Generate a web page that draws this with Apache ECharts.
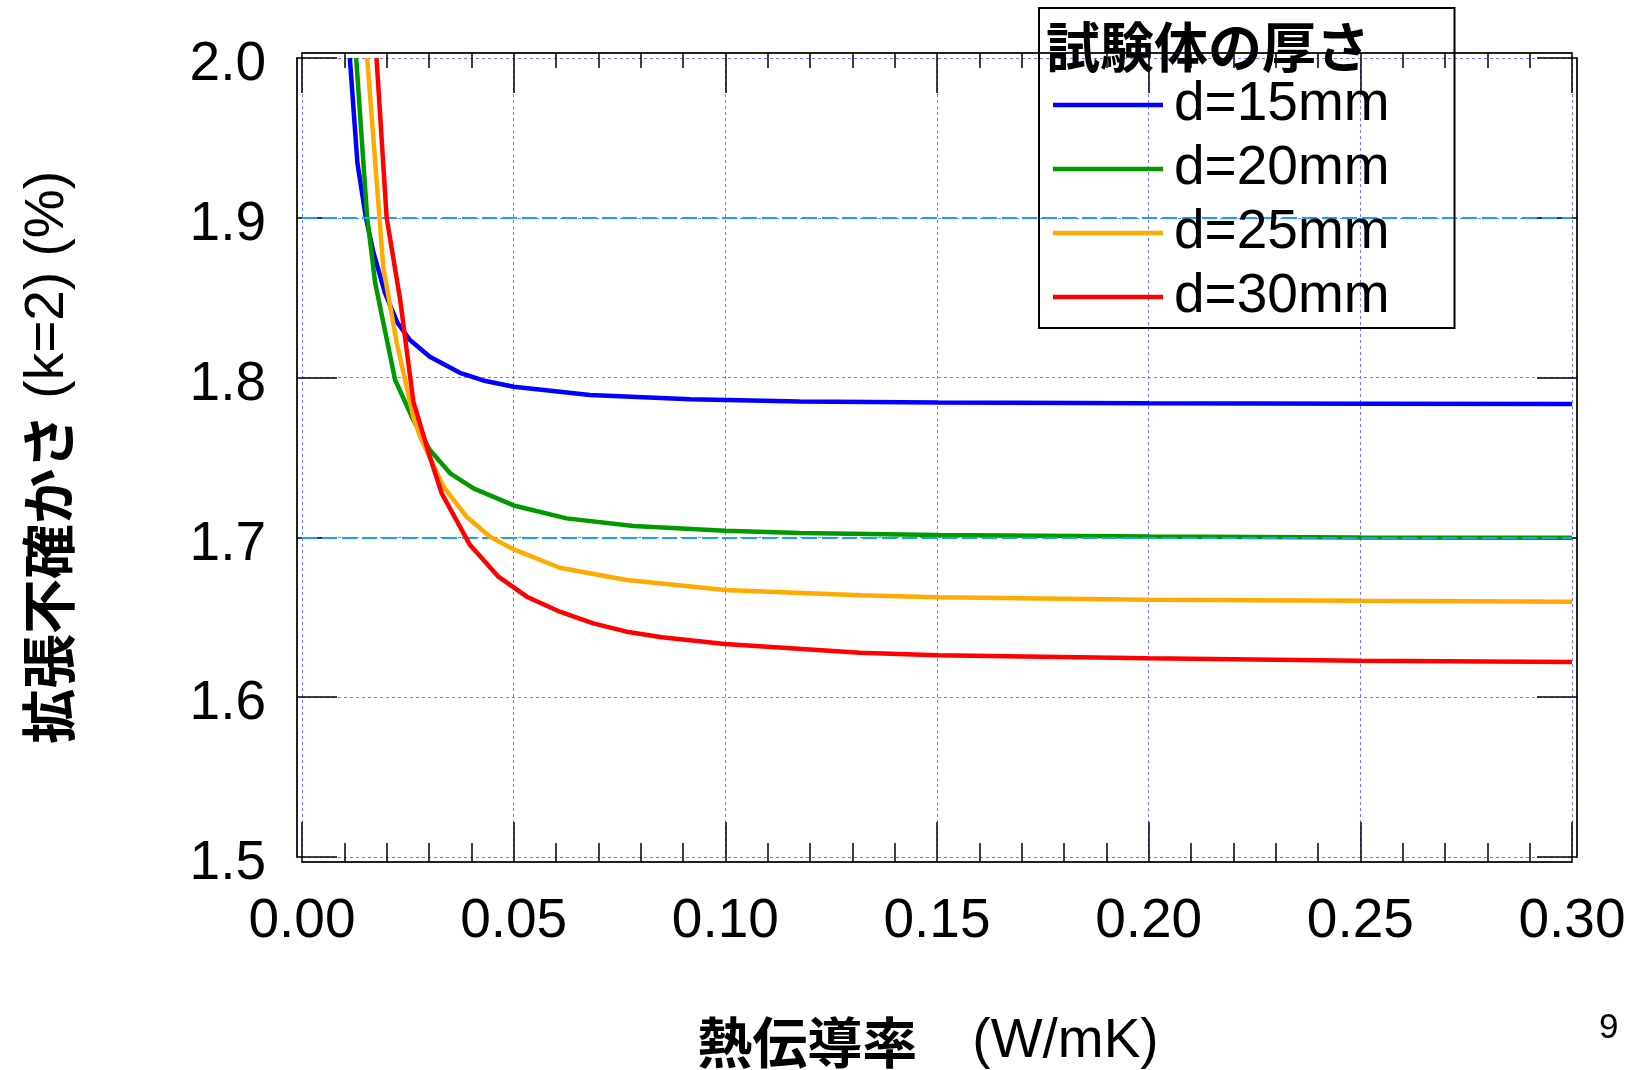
<!DOCTYPE html>
<html>
<head>
<meta charset="utf-8">
<script src="https://cdn.jsdelivr.net/npm/echarts@6/dist/echarts.min.js"></script>
<style>
html,body{margin:0;padding:0;background:#ffffff;}
#chart{width:1632px;height:1070px;}
</style>
</head>
<body>
<div id="chart"></div>
<script>
// ---- data ----
const SERIES_NAMES = ['d=15mm', 'd=20mm', 'd=25mm', 'd=30mm'];
const SERIES_COLORS = ['#0000ff', '#009900', '#ffaa00', '#ff0000'];

const X_15 = [0.0113, 0.0131, 0.0151, 0.0169, 0.0196, 0.0225, 0.0255, 0.0302, 0.0373, 0.0428, 0.05, 0.068, 0.0917, 0.1176, 0.15, 0.20, 0.25, 0.30];
const Y_15 = [2.000, 1.934, 1.900, 1.878, 1.853, 1.8345, 1.8235, 1.8131, 1.8030, 1.7982, 1.7943, 1.7891, 1.7864, 1.7851, 1.7844, 1.7839, 1.7837, 1.7835];

const X_20 = [0.0128, 0.0154, 0.0173, 0.0220, 0.0263, 0.0302, 0.035, 0.0405, 0.05, 0.0625, 0.0783, 0.10, 0.1176, 0.15, 0.20, 0.25, 0.30];
const Y_20 = [2.000, 1.900, 1.859, 1.7985, 1.7735, 1.7547, 1.7401, 1.7307, 1.7200, 1.7119, 1.7071, 1.7042, 1.7028, 1.7015, 1.7005, 1.7000, 1.6998];

const X_25 = [0.0154, 0.0183, 0.0192, 0.0224, 0.0263, 0.0279, 0.0334, 0.0389, 0.0444, 0.05, 0.0609, 0.0767, 0.10, 0.1318, 0.15, 0.20, 0.25, 0.30];
const Y_25 = [2.000, 1.900, 1.869, 1.8215, 1.7755, 1.763, 1.7317, 1.7129, 1.7004, 1.6925, 1.6810, 1.6733, 1.6671, 1.6638, 1.6625, 1.6610, 1.6603, 1.6598];

const X_30 = [0.0176, 0.0200, 0.0232, 0.0263, 0.0302, 0.033, 0.0397, 0.0464, 0.0531, 0.0609, 0.0688, 0.0767, 0.0850, 0.0999, 0.1318, 0.15, 0.20, 0.25, 0.30];
const Y_30 = [2.000, 1.900, 1.8486, 1.785, 1.7505, 1.7276, 1.6952, 1.6754, 1.6629, 1.6535, 1.6462, 1.6410, 1.6375, 1.6333, 1.6278, 1.6262, 1.6243, 1.6228, 1.6220];

const REF_LINES = [1.9, 1.7];

const X_MIN = 0, X_MAX = 0.30, X_STEP = 0.05;
const Y_MIN = 1.5, Y_MAX = 2.0, Y_STEP = 0.1;

const X_TITLE_JA = '熱伝導率';
const X_TITLE_UNIT = '\u3000(W/mK)';
const Y_TITLE_JA = '拡張不確かさ';
const Y_TITLE_UNIT = ' (k=2) (%)';
const LEGEND_TITLE = '試験体の厚さ';
const PAGE_NO = '9';

// ---- chart ----
const LATIN = '"Liberation Sans", Arial, "Noto Sans CJK JP", sans-serif';
const CJK = '"Noto Sans CJK JP", "Noto Sans CJK SC", sans-serif';

const XS = [X_15, X_20, X_25, X_30];
const YS = [Y_15, Y_20, Y_25, Y_30];

function pairs(xs, ys) { return xs.map((x, i) => [x, ys[i]]); }

const chart = echarts.init(document.getElementById('chart'), null, { renderer: 'canvas' });

const axisLine = { show: true, onZero: false, lineStyle: { color: '#222', width: 2 } };
const tickStyle = { color: '#000', width: 1.5 };

const series = SERIES_NAMES.map((name, i) => {
  const s = {
    name: name,
    type: 'line',
    data: pairs(XS[i], YS[i]),
    showSymbol: false,
    symbol: 'none',
    smooth: false,
    clip: true,
    color: SERIES_COLORS[i],
    lineStyle: { color: SERIES_COLORS[i], width: 4.5 },
    emphasis: { disabled: true },
    z: 3 + i
  };
  if (i === 0) {
    s.markLine = {
      silent: true,
      symbol: 'none',
      label: { show: false },
      lineStyle: { color: '#1aa3ec', type: [15, 5], width: 2 },
      emphasis: { disabled: true },
      data: REF_LINES.map(v => ({ yAxis: v }))
    };
  }
  return s;
});

const option = {
  animation: false,
  backgroundColor: '#ffffff',
  title: [
    {
      text: LEGEND_TITLE,
      left: 1046, top: 19,
      padding: 0,
      z: 20,
      textStyle: { fontFamily: CJK, fontWeight: 'bold', fontSize: 54, lineHeight: 56, color: '#000' }
    },
    {
      text: PAGE_NO,
      left: 1599, top: 1010,
      padding: 0,
      textStyle: { fontFamily: LATIN, fontWeight: 'normal', fontSize: 35, lineHeight: 36, color: '#000' }
    }
  ],
  legend: {
    show: true,
    data: SERIES_NAMES,
    orient: 'vertical',
    left: 1039, top: 8,
    padding: [67, 65, 1, 14],
    borderColor: '#000', borderWidth: 2,
    backgroundColor: 'transparent',
    itemWidth: 110, itemHeight: 4.5, itemGap: 4,
    icon: 'rect',
    selectedMode: false,
    textStyle: { fontFamily: LATIN, fontSize: 55, lineHeight: 60, color: '#000', padding: [0, 0, 0, 6] },
    z: 10
  },
  grid: {
    left: 302, top: 58, width: 1270, height: 799,
    containLabel: false,
    outerBoundsMode: 'none',
    show: false
  },
  xAxis: [
    {
      type: 'value', position: 'bottom', offset: 5,
      min: X_MIN, max: X_MAX, interval: X_STEP,
      axisLine: axisLine,
      axisTick: { show: true, inside: true, length: 40, lineStyle: tickStyle },
      minorTick: { show: true, splitNumber: 5, length: 19, lineStyle: tickStyle },
      splitLine: { show: true, lineStyle: { color: '#7878ff', type: [3, 3], width: 1 } },
      axisLabel: { show: true, margin: 32, fontFamily: LATIN, fontSize: 55, color: '#000',
        formatter: v => v.toFixed(2) },
      name: '{b|' + X_TITLE_JA + '}{n|' + X_TITLE_UNIT + '}',
      nameLocation: 'middle', nameGap: 150,
      nameTextStyle: {
        padding: [0, 18, 0, 0],
        rich: {
          b: { fontFamily: CJK, fontWeight: 'bold', fontSize: 55, lineHeight: 60, color: '#000' },
          n: { fontFamily: LATIN, fontSize: 55, lineHeight: 60, color: '#000' }
        }
      }
    },
    {
      type: 'value', position: 'top', offset: 5,
      min: X_MIN, max: X_MAX, interval: X_STEP,
      axisLine: axisLine,
      axisTick: { show: true, inside: true, length: 40, lineStyle: tickStyle },
      minorTick: { show: true, splitNumber: 5, length: 15, lineStyle: tickStyle },
      splitLine: { show: false },
      axisLabel: { show: false }
    }
  ],
  yAxis: [
    {
      type: 'value', position: 'left', offset: 5,
      min: Y_MIN, max: Y_MAX, interval: Y_STEP,
      axisLine: axisLine,
      axisTick: { show: true, inside: true, length: 40, lineStyle: tickStyle },
      splitLine: { show: true, lineStyle: { color: '#7878ff', type: [3, 3], width: 1 } },
      axisLabel: { show: true, margin: 31, fontFamily: LATIN, fontSize: 55, color: '#000',
        verticalAlign: 'top', lineHeight: 14,
        formatter: v => v.toFixed(1) },
      name: '{b|' + Y_TITLE_JA + '}{n|' + Y_TITLE_UNIT + '}',
      nameLocation: 'middle', nameRotate: 90, nameGap: 219,
      nameTextStyle: {
        rich: {
          b: { fontFamily: CJK, fontWeight: 'bold', fontSize: 55, lineHeight: 60, color: '#000' },
          n: { fontFamily: LATIN, fontSize: 55, lineHeight: 60, color: '#000' }
        }
      }
    },
    {
      type: 'value', position: 'right', offset: 5,
      min: Y_MIN, max: Y_MAX, interval: Y_STEP,
      axisLine: axisLine,
      axisTick: { show: true, inside: true, length: 40, lineStyle: tickStyle },
      splitLine: { show: false },
      axisLabel: { show: false }
    }
  ],
  series: series
};

chart.setOption(option);
</script>
</body>
</html>
